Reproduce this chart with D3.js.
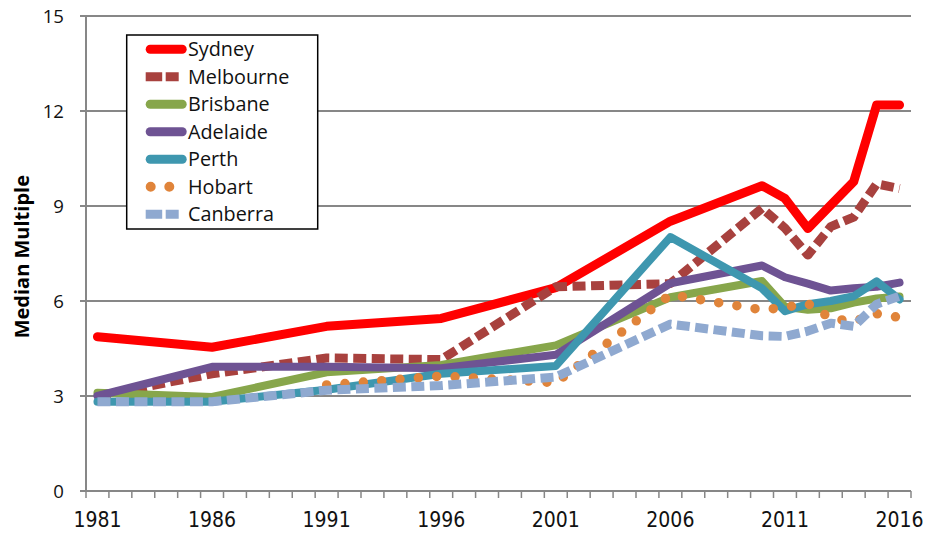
<!DOCTYPE html>
<html><head><meta charset="utf-8">
<script src="https://cdn.jsdelivr.net/npm/d3@7"></script>
<style>body{margin:0;background:#fff}</style>
</head><body>
<svg id="c" width="926" height="533"></svg>
<script>
// ---- data ----
const categories = [1981,1982,1983,1984,1985,1986,1987,1988,1989,1990,1991,1992,1993,1994,1995,1996,1997,1998,1999,2000,2001,2002,2003,2004,2005,2006,2007,2008,2009,2010,2011,2012,2013,2014,2015,2016];
const tickLabels = [1981,1986,1991,1996,2001,2006,2011,2016];
const yTicks = [0,3,6,9,12,15];
const dataYears = [1981,1986,1991,1996,2001,2006,2010,2011,2012,2013,2014,2015,2016];
const seriesNames = ["Sydney","Melbourne","Brisbane","Adelaide","Perth","Hobart","Canberra"];
const sydney    = [4.87,4.54,5.20,5.45,6.42,8.52,9.64,9.24,8.29,null,9.77,12.19,12.19];
const melbourne = [3.00,3.70,4.20,4.15,6.45,6.55,8.93,8.30,7.45,8.35,8.65,9.70,9.55];
const brisbane  = [3.10,2.97,3.75,3.98,4.60,6.12,6.63,5.82,5.72,5.77,5.95,6.08,6.14];
const adelaide  = [3.00,3.92,3.92,3.88,4.30,6.56,7.12,6.75,6.55,6.33,6.40,6.45,6.58];
const perth     = [2.82,2.82,3.20,3.70,3.95,8.02,6.40,5.68,5.90,6.00,6.15,6.62,6.05];
const hobart    = [null,null,3.35,3.63,3.42,6.20,5.72,5.80,5.92,5.45,5.35,5.60,5.48];
const canberra  = [2.82,2.82,3.18,3.33,3.60,5.27,4.90,4.88,5.05,5.30,5.20,5.90,6.15];
const seriesValues = [sydney,melbourne,brisbane,adelaide,perth,hobart,canberra];

// ---- styles ----
const styles = [
  {color:"#FF0000", w:9, dash:null, cap:"round"},
  {color:"#A8413E", w:9, dash:"13,5.5", cap:"butt"},
  {color:"#87A64B", w:8, dash:null, cap:"round"},
  {color:"#6E5393", w:8, dash:null, cap:"round"},
  {color:"#3E97AF", w:8, dash:null, cap:"round"},
  {color:"#E0843A", w:9.5, dash:"0,18.4", cap:"round"},
  {color:"#8FA9D0", w:9, dash:"13,5.5", cap:"butt"}
];

const svg = d3.select("#c");
const x = d3.scaleBand().domain(categories).range([86, 911]);
const xc = yr => x(yr) + x.bandwidth()/2;
const y = d3.scaleLinear().domain([0,15]).range([491,16]);
const gridColor = "#878787";

// gridlines
svg.append("g").selectAll("line").data(yTicks).join("line")
  .attr("x1",80).attr("x2",911)
  .attr("y1",d=>y(d)).attr("y2",d=>y(d))
  .attr("stroke",gridColor).attr("stroke-width",2);
// y axis line
svg.append("line").attr("x1",86).attr("x2",86).attr("y1",y(15)).attr("y2",y(0))
  .attr("stroke",gridColor).attr("stroke-width",2);
// x tick marks (between categories)
const tickPos = categories.map(c=>x(c)).concat([x(categories[categories.length-1])+x.bandwidth()]);
svg.append("g").selectAll("line").data(tickPos).join("line")
  .attr("x1",d=>d).attr("x2",d=>d).attr("y1",y(0)).attr("y2",y(0)+7)
  .attr("stroke",gridColor).attr("stroke-width",1.5);
// y labels
svg.append("g").selectAll("text").data(yTicks).join("text")
  .attr("x",64).attr("y",d=>y(d)+6.7).attr("text-anchor","end")
  .attr("font-family","'Open Sans', sans-serif").attr("font-size",18.6).attr("fill","#111")
  .text(d=>d);
// x labels
svg.append("g").selectAll("text").data(tickLabels).join("text")
  .attr("x",d=>xc(d)).attr("y",527).attr("text-anchor","middle")
  .attr("font-family","'Liberation Sans Narrow', 'DejaVu Sans Condensed', sans-serif").attr("font-size",21).attr("fill","#111")
  .text(d=>d);
// y title
svg.append("text").attr("transform","translate(28.5,256.7) rotate(-90)")
  .attr("text-anchor","middle").attr("font-family","'Open Sans', sans-serif")
  .attr("font-weight","bold").attr("font-size",20).attr("fill","#000")
  .text("Median Multiple");

// series lines
const line = d3.line().x(d=>xc(d.year)).y(d=>y(d.v));
seriesValues.forEach((vals,i)=>{
  const pts = dataYears.map((yr,j)=>({year:yr, v:vals[j]})).filter(d=>d.v!=null);
  const s = styles[i];
  svg.append("path").attr("d",line(pts)).attr("fill","none")
    .attr("stroke",s.color).attr("stroke-width",s.w)
    .attr("stroke-linecap",s.cap).attr("stroke-linejoin","round")
    .attr("stroke-dasharray",s.dash);
});

// legend
const lg = svg.append("g");
lg.append("rect").attr("x",126.7).attr("y",35).attr("width",191).attr("height",194)
  .attr("fill","#fff").attr("stroke","#000").attr("stroke-width",1.5);
seriesNames.forEach((n,i)=>{
  const ry = 49.3 + i*27.5;
  const s = styles[i];
  let x1=150.2, x2=182.2;
  if (s.dash && s.cap==="butt"){ x1=145.7; x2=178.7; }
  if (s.cap==="round" && s.dash){ x1=150.7; x2=180; }
  lg.append("line").attr("x1",x1).attr("x2",x2).attr("y1",ry).attr("y2",ry)
    .attr("stroke",s.color).attr("stroke-width",s.dash && s.cap==="round" ? 10 : 9)
    .attr("stroke-linecap",s.cap)
    .attr("stroke-dasharray", s.dash ? (s.cap==="butt" ? "16.5,3.5" : "0,18.6") : null);
  lg.append("text").attr("x",188).attr("y",ry+7)
    .attr("font-family","'Open Sans', sans-serif").attr("font-size",19.8).attr("fill","#111")
    .text(n);
});
</script>
</body></html>
